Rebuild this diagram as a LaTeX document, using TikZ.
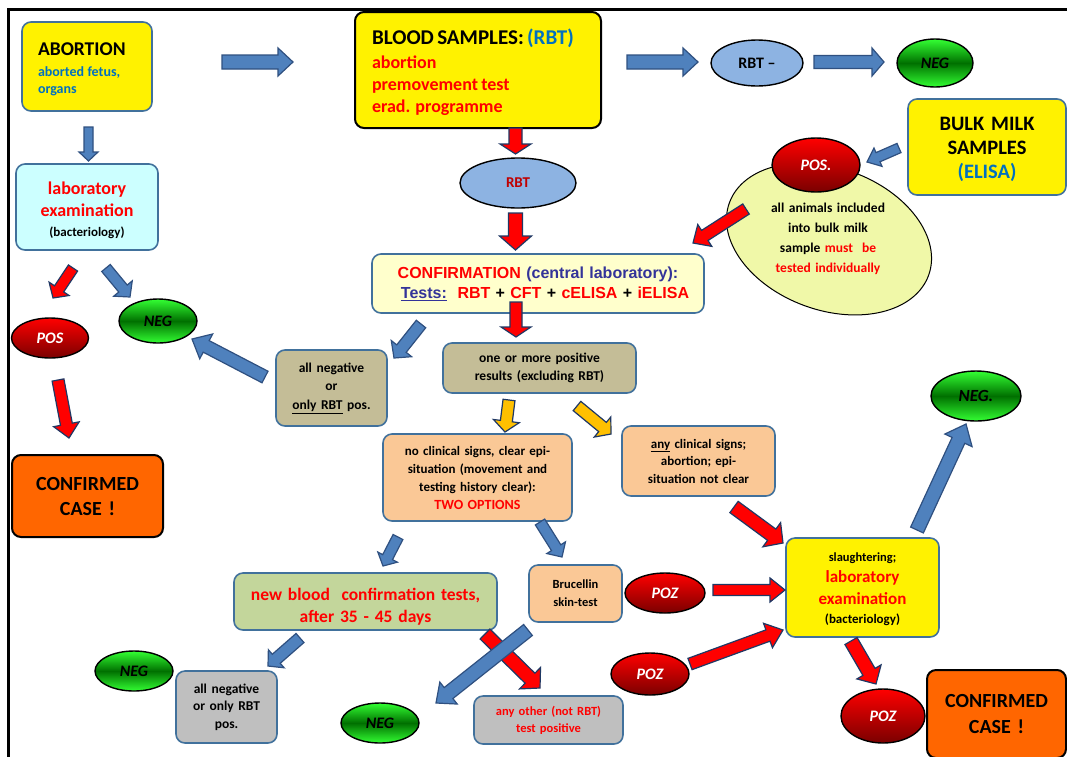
\documentclass[tikz,border=0pt]{standalone}
\usepackage{fontspec}
\setmainfont{Carlito}
\newfontfamily\arialfont{Liberation Sans}
\usetikzlibrary{calc,shapes.geometric}
\setlength{\lineskiplimit}{-100pt}
\definecolor{bordblue}{HTML}{41719C}
\definecolor{arrblue}{HTML}{4F81BD}
\definecolor{arrblueD}{HTML}{2F5080}
\definecolor{arrnavy}{HTML}{1F3864}
\definecolor{txtblue}{HTML}{0070C0}
\definecolor{confblue}{HTML}{333399}
\definecolor{ltyellow}{HTML}{FFFFCC}
\definecolor{ltcyan}{HTML}{CCFFFF}
\definecolor{khaki}{HTML}{C4BD97}
\definecolor{peach}{HTML}{FAC896}
\definecolor{olivefill}{HTML}{C3D69B}
\definecolor{grayfill}{HTML}{BFBFBF}
\definecolor{orangefill}{HTML}{FF6600}
\definecolor{paleyel}{HTML}{F0F8A8}
\definecolor{rbtblue}{HTML}{8DB3E2}
\definecolor{darkred}{HTML}{C00000}
\definecolor{goldfill}{HTML}{FFC000}
\definecolor{brightgreen}{HTML}{33FF33}
\definecolor{deepgreen}{HTML}{007000}
\definecolor{maroonred}{HTML}{7A0000}
\newcommand{\fs}[2]{\fontsize{#1}{#2}\selectfont}
\newcommand{\topstrut}[1]{\rule{0pt}{#1}}
% #1 style, #2 start, #3 end, #4 half shaft, #5 half head, #6 head length
\newcommand{\blockarrow}[6]{%
  \coordinate (bahead) at ($(#3)!#6!(#2)$);
  \path[#1] ($(#2)!#4!90:(#3)$) -- ($(bahead)!#4!90:(#3)$) -- ($(bahead)!#5!90:(#3)$) -- (#3) -- ($(bahead)!#5!-90:(#3)$) -- ($(bahead)!#4!-90:(#3)$) -- ($(#2)!#4!-90:(#3)$) -- cycle;}
\begin{document}
\begin{tikzpicture}[x=1pt,y=-1pt,
  every node/.style={inner sep=0pt, outer sep=0pt},
  box/.style={draw=bordblue, line width=1.6pt, rounded corners=9pt, align=center, font=\bfseries},
  blackbox/.style={box, draw=black, line width=2pt},
  oval/.style={ellipse, draw=black, line width=1.4pt, inner sep=0pt},
  greenoval/.style={oval, top color=brightgreen, bottom color=brightgreen, middle color=deepgreen, font=\bfseries\itshape\fs{16}{18}},
  redoval/.style={oval, top color=red, bottom color=maroonred, font=\bfseries\itshape\fs{16}{18}, text=white},
  barrow/.style={fill=arrblue, draw=arrblueD, line width=1.2pt},
  rarrow/.style={fill=red, draw=arrnavy, line width=1.2pt},
  yarrow/.style={fill=goldfill, draw=arrnavy, line width=1.2pt},
]
\useasboundingbox (0,0) rectangle (1067,756);
\clip (0,0) rectangle (1067,756);
\fill[white] (0,0) rectangle (1067,756);
% frame
\draw[line width=2.7pt, line join=miter] (8.3,760) -- (8.3,9.7) -- (1070,9.7);

% ---- nodes ----
\node[box, fill=yellow, minimum width=130, minimum height=89, text width=98, align=left] (abort) at (87,66.5)
  {\fs{19.5}{22}\topstrut{19pt}ABORTION\\[4pt]\fs{14}{17}\color{txtblue}aborted fetus,\\organs\par};
\node[box, fill=ltcyan, minimum width=142, minimum height=86, text width=130] (lab) at (87,207)
  {\color{red}\fs{18}{20}\topstrut{19pt}laboratory\\[2pt]examination\\\color{black}\fs{13}{20}(bacteriology)\par};
\node[blackbox, fill=yellow, minimum width=246, minimum height=116, text width=212, align=left] (blood) at (478,70)
  {\fs{21}{24}\topstrut{21pt}BLOOD SAMPLES: \textcolor{txtblue}{(RBT)}\\[2pt]\color{red}\fs{18}{22}abortion\\premovement test\\erad. programme\par};
\node[oval, fill=rbtblue, minimum width=116, minimum height=50, font=\bfseries\fs{15}{18}, text=darkred] (rbt) at (518,183) {RBT};
\node[oval, fill=rbtblue, minimum width=92, minimum height=46, font=\bfseries\fs{16}{18}] (rbtminus) at (757,63) {RBT --};
\node[greenoval, minimum width=76, minimum height=48] (negtop) at (935,63) {NEG};
\node[box, fill=yellow, minimum width=158, minimum height=96, text width=150, font=\bfseries\fs{20.5}{24}] (bulk) at (987,147)
  {\topstrut{19pt}BULK MILK\\SAMPLES\\\textcolor{txtblue}{(ELISA)}};
\node[oval, fill=paleyel, line width=1pt, minimum width=212, minimum height=142, rotate=-20] (milk) at (829,239) {};
\node[align=center, text width=170, font=\bfseries\fs{13.5}{20}] (milktxt) at (828,239)
  {all animals included\\into bulk milk\\sample \textcolor{red}{must\ \ be}\\\textcolor{red}{tested individually}};
\node[redoval, minimum width=88, minimum height=54] (posmilk) at (816,165) {POS.};
\node[box, fill=ltyellow, minimum width=332, minimum height=59, text width=325, font=\arialfont\bfseries\fs{16}{20}] (conf) at (538,283.5)
  {\textcolor{red}{CONFIRMATION} \textcolor{confblue}{(central laboratory):}\\\hspace*{14pt}\textcolor{confblue}{\underline{Tests:}}\ \ \textcolor{red}{RBT} + \textcolor{red}{CFT} + \textcolor{red}{cELISA} + \textcolor{red}{iELISA}};
\node[box, fill=khaki, minimum width=111, minimum height=76, text width=105, font=\bfseries\fs{13.5}{18.5}] (allneg) at (331.5,388)
  {all negative\\or\\\underline{only RBT} pos.};
\node[greenoval, minimum width=78, minimum height=44] (negleft) at (158,321) {NEG};
\node[redoval, minimum width=77, minimum height=40] (posleft) at (50,338) {POS};
\node[blackbox, fill=orangefill, minimum width=151, minimum height=82, text width=145, font=\bfseries\fs{20}{25}] (confL) at (87.5,496)
  {CONFIRMED\\CASE !};
\node[box, fill=khaki, minimum width=193, minimum height=50, text width=185, font=\bfseries\fs{13.5}{18}] (onepos) at (539.5,368)
  {one or more positive\\results (excluding RBT)};
\node[box, fill=peach, minimum width=189, minimum height=87, text width=182, font=\bfseries\fs{13}{18}] (noclin) at (477.5,477.5)
  {no clinical signs, clear epi-\\situation (movement and\\testing history clear):\\\textcolor{red}{\fs{14}{18}TWO OPTIONS}};
\node[box, fill=peach, minimum width=153, minimum height=70, text width=145, font=\bfseries\fs{13}{17.5}] (anyclin) at (698.5,461)
  {\underline{any} clinical signs;\\abortion; epi-\\situation not clear};
\node[box, fill=yellow, minimum width=153, minimum height=99, text width=145] (slaught) at (862.5,587.5)
  {\fs{12.5}{21}\topstrut{13pt}slaughtering;\\\color{red}\fs{17}{21}laboratory\\[1pt]examination\\[-2pt]\color{black}\fs{13}{21}(bacteriology)\par};
\node[greenoval, minimum width=90, minimum height=50, font=\bfseries\itshape\fs{17}{18}] (negright) at (976,396) {NEG.};
\node[box, fill=olivefill, minimum width=263, minimum height=57, text width=258, font=\bfseries\fs{17.5}{22}, text=red] (newblood) at (365.5,601.5)
  {\topstrut{22pt}new blood\ \ confirmation tests,\\after 35 - 45 days};
\node[box, fill=peach, minimum width=93, minimum height=57, text width=88, font=\bfseries\fs{12.5}{18}] (bruc) at (575.5,593.5)
  {Brucellin\\skin-test};
\node[redoval, minimum width=80, minimum height=40] (poz1) at (665,593) {POZ};
\node[redoval, minimum width=78, minimum height=42] (poz2) at (650,674) {POZ};
\node[redoval, minimum width=84, minimum height=54] (poz3) at (883,716) {POZ};
\node[blackbox, fill=orangefill, minimum width=139, minimum height=88, text width=130, font=\bfseries\fs{20}{26}] (confR) at (996.5,714)
  {CONFIRMED\\CASE !};
\node[box, fill=grayfill, minimum width=149, minimum height=48, text width=145, font=\bfseries\fs{12.5}{17}, text=red] (anyother) at (548.5,720)
  {any other (not RBT)\\test positive};
\node[greenoval, minimum width=78, minimum height=40] (negbot) at (380,723) {NEG};
\node[greenoval, minimum width=78, minimum height=40] (negbotleft) at (134,671) {NEG};
\node[box, fill=grayfill, minimum width=101, minimum height=72, text width=95, font=\bfseries\fs{13.5}{17.5}] (allneg2) at (226.5,707)
  {all negative\\or only RBT\\pos.};

% ---- arrow end points ----
\coordinate (a1s) at (222,62);   \coordinate (a1e) at (293,62);
\coordinate (a2s) at (88.5,127); \coordinate (a2e) at (88.5,161);
\coordinate (a3s) at (627,62);   \coordinate (a3e) at (698,62);
\coordinate (a4s) at (814,62);   \coordinate (a4e) at (884,62);
\coordinate (a5s) at (515.5,128); \coordinate (a5e) at (515.5,154);
\coordinate (a6s) at (515.5,213); \coordinate (a6e) at (515.5,250);
\coordinate (a7s) at (516,302);  \coordinate (a7e) at (516,337);
\coordinate (a8s) at (421,324);  \coordinate (a8e) at (394,358);
\coordinate (a9s) at (265,377);  \coordinate (a9e) at (192,339);
\coordinate (a10s) at (73,268);  \coordinate (a10e) at (53,298);
\coordinate (a11s) at (106,268); \coordinate (a11e) at (130,297);
\coordinate (a12s) at (58,380);  \coordinate (a12e) at (69,438);
\coordinate (a13s) at (899,148); \coordinate (a13e) at (867,162);
\coordinate (a14s) at (746,209); \coordinate (a14e) at (693,243);
\coordinate (a15s) at (509,400); \coordinate (a15e) at (505,432);
\coordinate (a16s) at (577,406); \coordinate (a16e) at (611,434);
\coordinate (a17s) at (734,507); \coordinate (a17e) at (783,543);
\coordinate (a18s) at (917,530); \coordinate (a18e) at (966,424);
\coordinate (a19s) at (398,537); \coordinate (a19e) at (383,566);
\coordinate (a20s) at (540,522); \coordinate (a20e) at (562,557);
\coordinate (a21s) at (300,638); \coordinate (a21e) at (268,666);
\coordinate (a22s) at (528,630); \coordinate (a22e) at (436,703);
\coordinate (a23s) at (485,634); \coordinate (a23e) at (540,688);
\coordinate (a24s) at (713,590); \coordinate (a24e) at (785,590);
\coordinate (a25s) at (690,664); \coordinate (a25e) at (783,630);
\coordinate (a26s) at (851,641); \coordinate (a26e) at (876,684);

% ---- block arrows ----
\blockarrow{barrow}{a1s}{a1e}{7pt}{14pt}{15pt}
\blockarrow{barrow}{a2s}{a2e}{4.5pt}{9.5pt}{9pt}
\blockarrow{barrow}{a3s}{a3e}{7pt}{14pt}{15pt}
\blockarrow{barrow}{a4s}{a4e}{6.5pt}{14pt}{12pt}
\blockarrow{rarrow}{a5s}{a5e}{6.5pt}{15.5pt}{10pt}
\blockarrow{rarrow}{a6s}{a6e}{7pt}{16pt}{14pt}
\blockarrow{rarrow}{a7s}{a7e}{6pt}{15pt}{10pt}
\blockarrow{barrow}{a8s}{a8e}{6pt}{13pt}{12pt}
\blockarrow{barrow}{a9s}{a9e}{6.5pt}{14pt}{16pt}
\blockarrow{rarrow}{a10s}{a10e}{5.5pt}{12pt}{11pt}
\blockarrow{barrow}{a11s}{a11e}{5.5pt}{12pt}{11pt}
\blockarrow{rarrow}{a12s}{a12e}{6pt}{13pt}{14pt}
\blockarrow{barrow}{a13s}{a13e}{5pt}{10pt}{12pt}
\blockarrow{rarrow}{a14s}{a14e}{6pt}{13pt}{14pt}
\blockarrow{yarrow}{a15s}{a15e}{6pt}{13pt}{11pt}
\blockarrow{yarrow}{a16s}{a16e}{6pt}{13pt}{11pt}
\blockarrow{rarrow}{a17s}{a17e}{7pt}{15pt}{14pt}
\blockarrow{barrow}{a18s}{a18e}{7pt}{15pt}{18pt}
\blockarrow{barrow}{a19s}{a19e}{5.5pt}{11pt}{10pt}
\blockarrow{barrow}{a20s}{a20e}{5.5pt}{11pt}{11pt}
\blockarrow{barrow}{a21s}{a21e}{6pt}{12pt}{11pt}
\blockarrow{rarrow}{a23s}{a23e}{7pt}{15pt}{14pt}
\blockarrow{barrow}{a22s}{a22e}{7pt}{14pt}{16pt}
\blockarrow{rarrow}{a24s}{a24e}{5.5pt}{12pt}{15pt}
\blockarrow{rarrow}{a25s}{a25e}{6pt}{13pt}{16pt}
\blockarrow{rarrow}{a26s}{a26e}{7pt}{14pt}{14pt}
\end{tikzpicture}
\end{document}
